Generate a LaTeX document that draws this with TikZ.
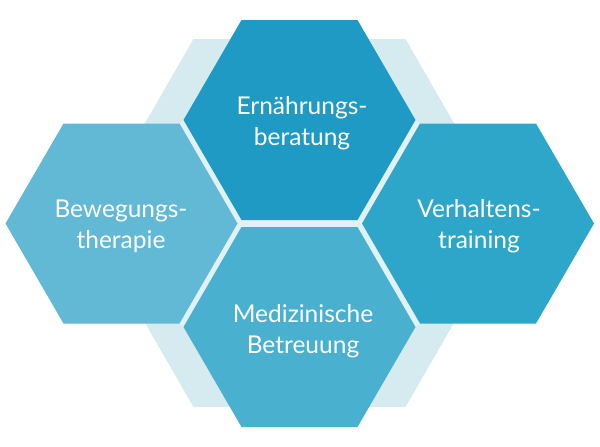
\documentclass[tikz,border=0pt]{standalone}
\usepackage{fontspec}
\setmainfont{Lato}
\definecolor{cTopC}{HTML}{1E9AC4}
\definecolor{cRightC}{HTML}{2EA6CA}
\definecolor{cBotC}{HTML}{49B0CF}
\definecolor{cLeftC}{HTML}{61B9D6}
\definecolor{bgHex}{HTML}{D5EBEF}
\definecolor{gapC}{HTML}{E0F2F6}
\tikzset{
  lbl/.style={text=white, align=center, font=\fontsize{24.5}{31}\selectfont, inner sep=0pt}
}
\newcommand\myhexpath[1]{(#1) ++(-116,0) -- ++(58,-100) -- ++(116,0) -- ++(58,100) -- ++(-58,100) -- ++(-116,0) -- cycle}
\begin{document}
\begin{tikzpicture}[x=1pt,y=-1pt]
\useasboundingbox (0,0) rectangle (600,447);
\coordinate (cBg) at (299.5,223);
\coordinate (cTop) at (299.5,120);
\coordinate (cBot) at (299.5,327);
\coordinate (cLeft) at (121.5,223.5);
\coordinate (cRight) at (478,223.5);
% light background hexagon
\fill[bgHex] (cBg) ++(-212,0) -- ++(106,-184) -- ++(212,0) -- ++(106,184) -- ++(-106,184) -- ++(-212,0) -- cycle;
% lighter gaps between the four hexagons
\fill[gapC] (183.5,120) -- (415.5,120) -- (420,123.5) -- (420,323.5) -- (415.5,327) -- (183.5,327) -- (179.5,323.5) -- (179.5,123.5) -- cycle;
\fill[cTopC] \myhexpath{cTop};
\fill[cLeftC] \myhexpath{cLeft};
\fill[cRightC] \myhexpath{cRight};
\fill[cBotC] \myhexpath{cBot};
\node[lbl] (tTop) at (302,123) {Ernährungs-\\beratung};
\node[lbl] (tLeft) at (121,226) {Bewegungs-\\therapie};
\node[lbl] (tRight) at (479,226) {Verhaltens-\\training};
\node[lbl] (tBot) at (303,331) {Medizinische\\Betreuung};
\end{tikzpicture}
\end{document}
